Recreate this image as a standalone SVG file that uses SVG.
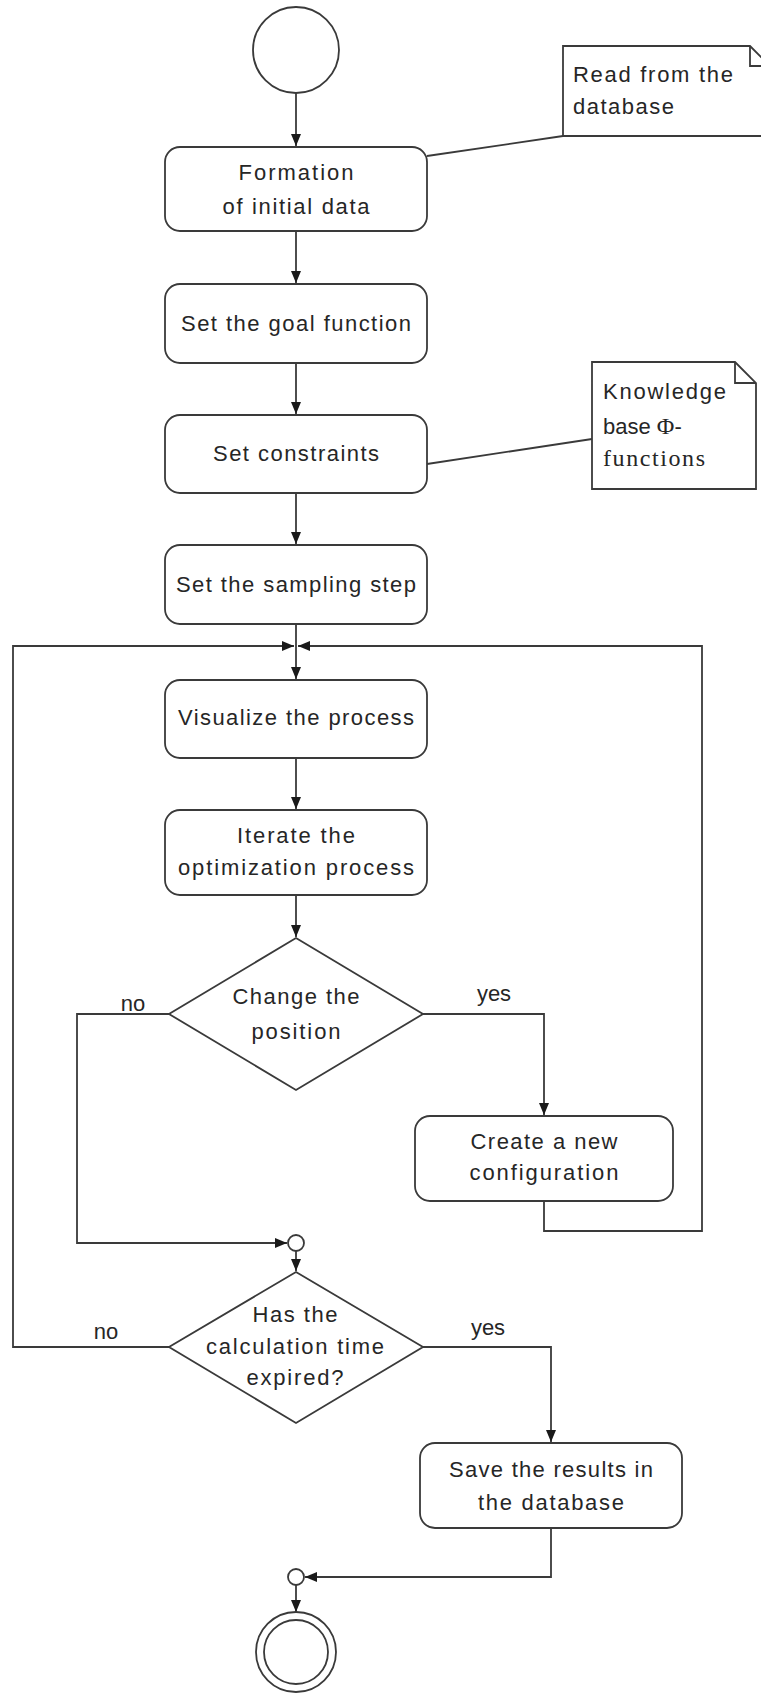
<svg xmlns="http://www.w3.org/2000/svg" width="761" height="1693" viewBox="0 0 761 1693">
<style>
.n{fill:#fff;stroke:#3a3a3a;stroke-width:1.8}
.c{fill:none;stroke:#3a3a3a;stroke-width:1.8}
.t{font-family:"Liberation Sans",Arial,sans-serif;font-size:22px;fill:#262626;text-anchor:middle}
.l{font-family:"Liberation Sans",Arial,sans-serif;font-size:22px;fill:#262626}
.s{font-family:"Liberation Serif","Times New Roman",serif;font-size:24px;fill:#262626}
</style>
<defs>
<marker id="a" markerUnits="userSpaceOnUse" markerWidth="13" markerHeight="11" refX="12" refY="5" orient="auto">
<path d="M0,0 L12,5 L0,10 Z" fill="#1a1a1a"/>
</marker>
</defs>
<rect width="761" height="1693" fill="#fff"/>

<g id="connectors">
<line class="c" x1="296" y1="93" x2="296" y2="146" marker-end="url(#a)"/>
<line class="c" x1="296" y1="231" x2="296" y2="283" marker-end="url(#a)"/>
<line class="c" x1="296" y1="363" x2="296" y2="414" marker-end="url(#a)"/>
<line class="c" x1="296" y1="493" x2="296" y2="544" marker-end="url(#a)"/>
<line class="c" x1="296" y1="624" x2="296" y2="679" marker-end="url(#a)"/>
<line class="c" x1="296" y1="758" x2="296" y2="809" marker-end="url(#a)"/>
<line class="c" x1="296" y1="895" x2="296" y2="937" marker-end="url(#a)"/>
<polyline class="c" points="423,1014 544,1014 544,1115" marker-end="url(#a)"/>
<polyline class="c" points="169,1014 77,1014 77,1243 287,1243" marker-end="url(#a)"/>
<polyline class="c" points="544,1201 544,1231 702,1231 702,646 298,646" marker-end="url(#a)"/>
<polyline class="c" points="169,1347 13,1347 13,646 294,646" marker-end="url(#a)"/>
<line class="c" x1="296" y1="1251" x2="296" y2="1271" marker-end="url(#a)"/>
<polyline class="c" points="423,1347 551,1347 551,1442" marker-end="url(#a)"/>
<polyline class="c" points="551,1528 551,1577 305,1577" marker-end="url(#a)"/>
<line class="c" x1="296" y1="1585" x2="296" y2="1612" marker-end="url(#a)"/>
<line class="c" x1="427" y1="156" x2="563" y2="136"/>
<line class="c" x1="427" y1="464" x2="592" y2="439"/>
</g>

<g id="start"><circle class="n" cx="296" cy="50" r="43"/></g>

<g id="note1">
<path class="n" d="M563,46 L750,46 L772,68 L772,136 L563,136 Z"/>
<path class="c" d="M750,46 L750,66 L772,66"/>
<text class="l" x="573" y="82" textLength="160" lengthAdjust="spacing">Read from the</text>
<text class="l" x="573" y="114" textLength="101" lengthAdjust="spacing">database</text>
</g>

<g id="formation">
<rect class="n" x="165" y="147" width="262" height="84" rx="15"/>
<text class="t" x="296" y="180" textLength="115" lengthAdjust="spacing">Formation</text>
<text class="t" x="296" y="214" textLength="147" lengthAdjust="spacing">of initial data</text>
</g>

<g id="goal">
<rect class="n" x="165" y="284" width="262" height="79" rx="15"/>
<text class="t" x="296" y="331" textLength="230" lengthAdjust="spacing">Set the goal function</text>
</g>

<g id="constraints">
<rect class="n" x="165" y="415" width="262" height="78" rx="15"/>
<text class="t" x="296" y="461" textLength="166" lengthAdjust="spacing">Set constraints</text>
</g>

<g id="note2">
<path class="n" d="M592,362 L735,362 L756,383 L756,489 L592,489 Z"/>
<path class="c" d="M735,362 L735,383 L756,383"/>
<text class="l" x="603" y="399" textLength="123" lengthAdjust="spacing">Knowledge</text>
<text class="l" x="603" y="434">base <tspan class="s" font-size="24">Φ</tspan>-</text>
<text class="s" x="603" y="466" textLength="102" lengthAdjust="spacing">functions</text>
</g>

<g id="sampling">
<rect class="n" x="165" y="545" width="262" height="79" rx="15"/>
<text class="t" x="296" y="592" textLength="240" lengthAdjust="spacing">Set the sampling step</text>
</g>

<g id="visualize">
<rect class="n" x="165" y="680" width="262" height="78" rx="15"/>
<text class="t" x="296" y="725" textLength="236" lengthAdjust="spacing">Visualize the process</text>
</g>

<g id="iterate">
<rect class="n" x="165" y="810" width="262" height="85" rx="15"/>
<text class="t" x="296" y="843" textLength="118" lengthAdjust="spacing">Iterate the</text>
<text class="t" x="296" y="875" textLength="236" lengthAdjust="spacing">optimization process</text>
</g>

<g id="decision1">
<polygon class="n" points="296,938 423,1014 296,1090 169,1014"/>
<text class="t" x="296" y="1004" textLength="127" lengthAdjust="spacing">Change the</text>
<text class="t" x="296" y="1039" textLength="89" lengthAdjust="spacing">position</text>
<text class="t" x="133" y="1011">no</text>
<text class="t" x="494" y="1001">yes</text>
</g>

<g id="newconfig">
<rect class="n" x="415" y="1116" width="258" height="85" rx="15"/>
<text class="t" x="544" y="1149" textLength="147" lengthAdjust="spacing">Create a new</text>
<text class="t" x="544" y="1180" textLength="149" lengthAdjust="spacing">configuration</text>
</g>

<g id="merge1"><circle class="n" cx="296" cy="1243" r="8"/></g>

<g id="decision2">
<polygon class="n" points="296,1272 423,1347 296,1423 169,1347"/>
<text class="t" x="295" y="1322" textLength="85" lengthAdjust="spacing">Has the</text>
<text class="t" x="295" y="1354" textLength="178" lengthAdjust="spacing">calculation time</text>
<text class="t" x="295" y="1385" textLength="97" lengthAdjust="spacing">expired?</text>
<text class="t" x="106" y="1339">no</text>
<text class="t" x="488" y="1335">yes</text>
</g>

<g id="save">
<rect class="n" x="420" y="1443" width="262" height="85" rx="15"/>
<text class="t" x="551" y="1477" textLength="204" lengthAdjust="spacing">Save the results in</text>
<text class="t" x="551" y="1510" textLength="146" lengthAdjust="spacing">the database</text>
</g>

<g id="merge2"><circle class="n" cx="296" cy="1577" r="8"/></g>

<g id="end">
<circle class="n" cx="296" cy="1652" r="40"/>
<circle class="n" cx="296" cy="1652" r="32"/>
</g>
</svg>
